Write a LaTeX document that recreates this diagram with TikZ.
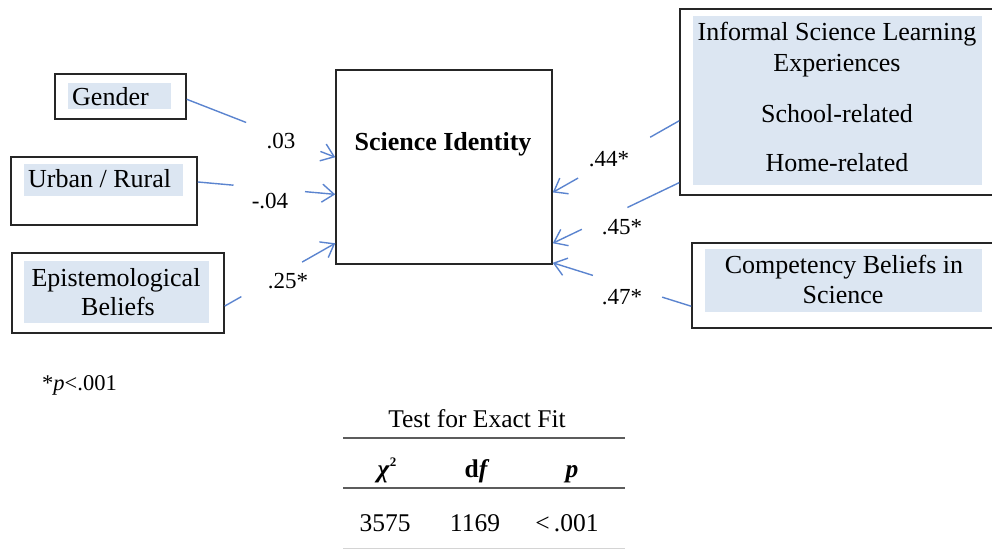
\documentclass[tikz,border=0pt]{standalone}
\usepackage{fontspec}
\setmainfont{Liberation Serif}
\usetikzlibrary{arrows.meta,calc}
\definecolor{arrowblue}{HTML}{5B84CF}
\definecolor{shadeblue}{HTML}{DCE6F2}
\definecolor{rulegray}{HTML}{5C5C5C}
\definecolor{lightrule}{HTML}{D4D4D4}
\begin{document}
\begin{tikzpicture}[x=1pt,y=-1pt,
  box/.style={draw=black!85,line width=1.5pt,inner sep=0pt},
  shade/.style={fill=shadeblue,inner sep=0pt},
  txt/.style={font=\fontsize{26}{30}\selectfont,inner sep=0pt,anchor=base},
  lbl/.style={font=\fontsize{23}{27}\selectfont,inner sep=0pt},
  tbl/.style={font=\fontsize{25.5}{30}\selectfont,inner sep=0pt,anchor=base},
  conn/.style={draw=arrowblue,line width=1.4pt},
  arr/.style={conn,-{Straight Barb[length=12pt,width=18pt]}},
  tabrule/.style={draw=rulegray,line width=2pt}]
\useasboundingbox (0,0) rectangle (992,549);
\clip (0,0) rectangle (992,549);

% left boxes
\node[box,minimum width=131pt,minimum height=45pt] (g) at (120.5,96.5) {};
\node[shade,minimum width=103pt,minimum height=26pt] (gs) at (119.5,96) {};
\node[txt,anchor=base west] (gt) at (72,105) {Gender};

\node[box,minimum width=186pt,minimum height=68pt] (u) at (104,191) {};
\node[shade,minimum width=159pt,minimum height=32pt] (us) at (103.5,180) {};
\node[txt,anchor=base west] (ut) at (28,187) {Urban / Rural};

\node[box,minimum width=212pt,minimum height=80pt] (e) at (118,293) {};
\node[shade,minimum width=185pt,minimum height=62pt] (es) at (116.5,292) {};
\node[txt] (et1) at (116,286) {Epistemological};
\node[txt] (et2) at (118,315) {Beliefs};

% centre box
\node[box,minimum width=216pt,minimum height=194pt] (si) at (444,167) {};
\node[txt,font=\fontsize{26}{30}\selectfont\bfseries] (sit) at (443,150) {Science Identity};

% right boxes
\node[box,minimum width=320pt,minimum height=186pt] (i) at (840,102) {};
\node[shade,minimum width=289pt,minimum height=169pt] (is) at (837.5,100.5) {};
\node[txt] (it1) at (837,40) {Informal Science Learning};
\node[txt] (it2) at (837,71) {Experiences};
\node[txt] (it3) at (837,122) {School-related};
\node[txt] (it4) at (837,171) {Home-related};

\node[box,minimum width=308pt,minimum height=85pt] (c) at (846,285.5) {};
\node[shade,minimum width=277pt,minimum height=63pt] (cs) at (843.5,280.5) {};
\node[txt] (ct1) at (844,273) {Competency Beliefs in};
\node[txt] (ct2) at (843,303) {Science};

% ports
\coordinate (g-o) at ($(g.north east)!0.56!(g.south east)$);
\coordinate (u-o) at ($(u.north east)!0.37!(u.south east)$);
\coordinate (e-o) at ($(e.north east)!0.66!(e.south east)$);
\coordinate (si-l1) at ($(si.north west)!0.45!(si.south west)$);
\coordinate (si-l2) at ($(si.north west)!0.64!(si.south west)$);
\coordinate (si-l3) at ($(si.north west)!0.89!(si.south west)$);
\coordinate (si-r1) at ($(si.north east)!0.63!(si.south east)$);
\coordinate (si-r2) at ($(si.north east)!0.89!(si.south east)$);
\coordinate (si-r3) at ($(si.north east)!0.99!(si.south east)$);
\coordinate (i-o1) at ($(i.north west)!0.60!(i.south west)$);
\coordinate (i-o2) at ($(i.north west)!0.93!(i.south west)$);
\coordinate (c-o) at ($(c.north west)!0.74!(c.south west)$);

% connectors
\draw[conn] (g-o) -- ($(g-o)!0.40!(si-l1)$);
\draw[arr] ($(g-o)!0.90!(si-l1)$) -- (si-l1);
\draw[conn] (u-o) -- ($(u-o)!0.26!(si-l2)$);
\draw[arr] ($(u-o)!0.78!(si-l2)$) -- (si-l2);
\draw[conn] (e-o) -- ($(e-o)!0.15!(si-l3)$);
\draw[arr] ($(e-o)!0.70!(si-l3)$) -- (si-l3);
\draw[conn] (i-o1) -- ($(i-o1)!0.23!(si-r1)$);
\draw[arr] ($(i-o1)!0.80!(si-r1)$) -- (si-r1);
\draw[conn] (i-o2) -- ($(i-o2)!0.41!(si-r2)$);
\draw[arr] ($(i-o2)!0.77!(si-r2)$) -- (si-r2);
\draw[conn] (c-o) -- ($(c-o)!0.21!(si-r3)$);
\draw[arr] ($(c-o)!0.71!(si-r3)$) -- (si-r3);

% labels
\node[lbl] (l1) at (281,141) {.03};
\node[lbl] (l2) at (270,201) {-.04};
\node[lbl] (l3) at (288,281) {.25*};
\node[lbl] (l4) at (609,159) {.44*};
\node[lbl] (l5) at (622,227) {.45*};
\node[lbl] (l6) at (622,297) {.47*};

% footnote
\node[anchor=base west,inner sep=0pt,font=\fontsize{22.5}{26}\selectfont] (fn) at (42,390) {*\textit{p}<.001};

% table
\node[tbl] (tt) at (477,427) {Test for Exact Fit};
\draw[tabrule] (343,438) -- (625,438);
\node[tbl] (h1) at (387,477) {\textbf{\textit{χ}\raisebox{0.42em}{\fontsize{13}{13}\selectfont 2}}};
\node[tbl] (h2) at (477,477) {\textbf{d\textit{f}}};
\node[tbl] (h3) at (572,477) {\textbf{\textit{p}}};
\draw[tabrule] (343,488) -- (625,488);
\node[tbl] (r1) at (385,531) {3575};
\node[tbl] (r2) at (475,531) {1169};
\node[tbl] (r3) at (567,531) {<\,.001};
\draw[draw=lightrule,line width=1pt] (343,548) -- (625,548);
\end{tikzpicture}
\end{document}
